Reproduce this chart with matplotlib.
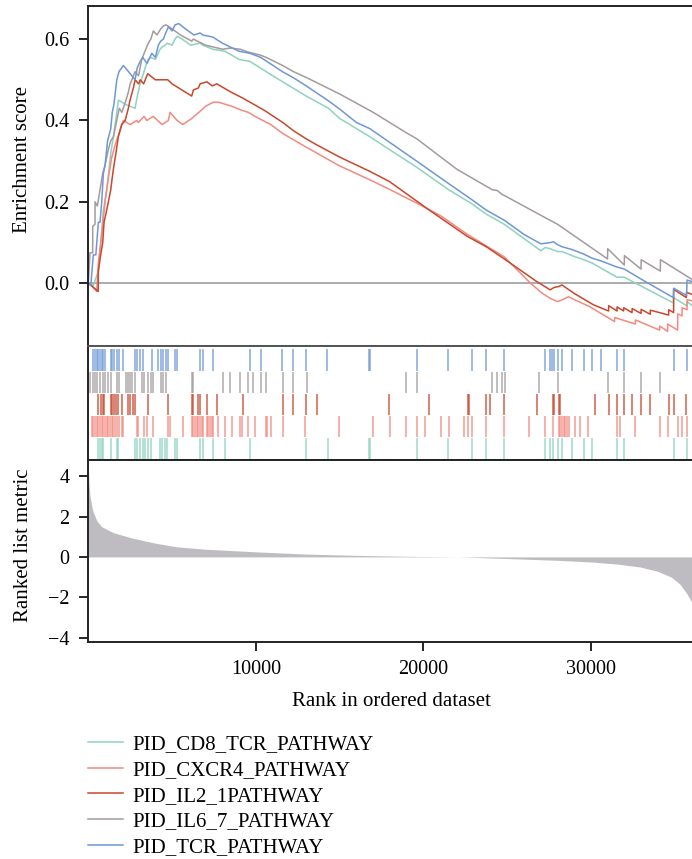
import numpy as np
import matplotlib
matplotlib.use("Agg")
import matplotlib.pyplot as plt

plt.rcParams['font.family'] = ['Liberation Serif', 'DejaVu Serif']

# gene set names and colours
pathways = ["PID_CD8_TCR_PATHWAY", "PID_CXCR4_PATHWAY", "PID_IL2_1PATHWAY",
            "PID_IL6_7_PATHWAY", "PID_TCR_PATHWAY"]
colors = ["#8dd3c0", "#f28a80", "#c9472c", "#a39b9d", "#6f97d8"]

# running enrichment score (rank, ES)
cd8_rank = [0, 300, 600, 700, 800, 900, 1100, 1340, 1500, 1700, 1800, 2200, 2790, 2925, 3090,
            3250, 3390, 3580, 3730, 4000, 4280, 4380, 4580, 4720, 5000, 5180, 5310, 5600, 6100,
            6670, 6830, 7430, 8160, 9000, 9650, 11000, 13000, 14330, 15000, 16800, 19600, 21500,
            22900, 23740, 24820, 27000, 27270, 27560, 28000, 28260, 28860, 29550, 30050, 31545,
            31980, 34900, 34925, 35700, 35725, 36200]
cd8_es = [0, -0.005, 0.03, 0.08, 0.13, 0.18, 0.23, 0.32, 0.36, 0.42, 0.45, 0.44, 0.43, 0.46, 0.49,
          0.51, 0.53, 0.55, 0.555, 0.55, 0.575, 0.58, 0.585, 0.59, 0.585, 0.60, 0.607, 0.60, 0.585,
          0.59, 0.585, 0.575, 0.57, 0.55, 0.545, 0.51, 0.46, 0.43, 0.405, 0.36, 0.285, 0.23,
          0.195, 0.17, 0.145, 0.08, 0.088, 0.085, 0.078, 0.078, 0.068, 0.058, 0.05, 0.015,
          0.015, -0.048, -0.035, -0.055, -0.045, -0.06]

cxcr4_rank = [0, 200, 400, 500, 600, 800, 1000, 1200, 1400, 1600, 1850, 2090, 2500, 2890, 2985,
              3325, 3490, 3880, 4400, 4776, 4877, 5300, 5636, 6173, 6600, 7000, 7463, 7761, 8161,
              8561, 9158, 9552, 9952, 10889, 11606, 12937, 14925, 17014, 18011, 18967, 19605,
              21062, 22626, 24818, 26268, 27000, 27560, 28000, 28300, 28650, 29000, 29900,
              31400, 31410, 32639, 32645, 34089, 34095, 34566, 34570, 35163, 35170, 35426,
              35430, 35725, 35730, 36200]
cxcr4_es = [0, -0.005, -0.015, -0.02, 0.05, 0.12, 0.2, 0.26, 0.31, 0.34, 0.37, 0.40, 0.39, 0.40, 0.395,
            0.41, 0.40, 0.41, 0.39, 0.40, 0.42, 0.40, 0.39, 0.405, 0.42, 0.435, 0.445, 0.445, 0.44,
            0.435, 0.425, 0.42, 0.41, 0.39, 0.368, 0.336, 0.29, 0.25, 0.23, 0.21, 0.197,
            0.165, 0.12, 0.065, 0.005, -0.022, -0.037, -0.045, -0.04, -0.033, -0.04, -0.057,
            -0.094, -0.084, -0.1, -0.09, -0.115, -0.105, -0.118, -0.1, -0.115, -0.075, -0.08,
            -0.06, -0.065, -0.04, -0.045]

il2_rank = [0, 300, 590, 600, 740, 860, 940, 1100, 1340, 1430, 1530, 1650, 1790, 1990, 2200, 2390,
            2490, 2690, 2790, 3000, 3100, 3300, 3546, 4000, 4740, 5000, 6170, 6270, 6570, 6670,
            7070, 7400, 7665, 8500, 9218, 10500, 11606, 12240, 13000, 13635, 15000, 16800, 17970,
            20340, 22626, 23743, 24818, 26769, 27560, 27800, 28060, 28260, 29000, 30150, 31044,
            31050, 31545, 31550, 31940, 31950, 32441, 32450, 32979, 32985, 33532, 33540, 34626,
            34630, 34925, 34930, 35682, 35690, 36200]
il2_es = [0, -0.01, -0.02, 0.03, 0.07, 0.1, 0.15, 0.18, 0.23, 0.26, 0.29, 0.32, 0.36, 0.39, 0.40, 0.43,
          0.45, 0.48, 0.50, 0.49, 0.50, 0.49, 0.515, 0.50, 0.50, 0.49, 0.46, 0.475, 0.48, 0.49,
          0.495, 0.485, 0.49, 0.47, 0.455, 0.425, 0.395, 0.375, 0.355, 0.34, 0.31, 0.275, 0.25,
          0.18, 0.115, 0.09, 0.06, 0.004, -0.016, -0.01, -0.008, -0.004, -0.025, -0.053, -0.068,
          -0.055, -0.068, -0.058, -0.068, -0.06, -0.072, -0.062, -0.074, -0.064, -0.076, -0.066, -0.078,
          -0.065, -0.072, -0.015, -0.035, -0.022, -0.03]

il6_rank = [0, 100, 260, 265, 400, 405, 540, 700, 860, 1000, 1200, 1340, 1500, 1700, 1850, 2000,
            2250, 2390, 2500, 2600, 2790, 3000, 3190, 3330, 3580, 3730, 3880, 4100, 4320, 4480,
            4640, 5000, 5500, 6170, 6270, 7000, 8020, 8460, 9060, 9550, 9850, 10310, 10610,
            11600, 12240, 13040, 15000, 17000, 18970, 19600, 22000, 24100, 24400, 24700, 24860,
            26870, 28000, 30980, 30990, 31980, 31990, 32980, 32990, 34130, 34140, 36200]
il6_es = [0, 0.075, 0.075, 0.14, 0.145, 0.20, 0.19, 0.23, 0.27, 0.29, 0.33, 0.35, 0.36, 0.40, 0.43, 0.42,
          0.45, 0.47, 0.49, 0.50, 0.52, 0.51, 0.55, 0.565, 0.59, 0.60, 0.62, 0.61, 0.625, 0.632,
          0.635, 0.625, 0.61, 0.595, 0.60, 0.585, 0.575, 0.578, 0.575, 0.568, 0.565, 0.56, 0.555,
          0.535, 0.52, 0.505, 0.465, 0.42, 0.37, 0.355, 0.28, 0.23, 0.228, 0.218, 0.215,
          0.17, 0.145, 0.06, 0.085, 0.045, 0.068, 0.035, 0.058, 0.03, 0.058, 0.005]

tcr_rank = [0, 150, 300, 450, 600, 700, 800, 900, 1000, 1150, 1340, 1430, 1530, 1700, 1830, 2090,
            2400, 2790, 2925, 3090, 3250, 3500, 3790, 4000, 4180, 4320, 4480, 4620, 4780, 5000,
            5180, 5400, 5800, 6300, 6670, 6830, 7430, 8000, 9000, 9650, 10290, 11580, 12240,
            13000, 14270, 15000, 16000, 16800, 17500, 19600, 21500, 22900, 23740, 24820, 26000,
            27000, 27560, 27760, 28000, 28260, 28860, 29550, 30050, 30590, 31545, 31980, 33000,
            34900, 34925, 35700, 35725, 36200]
tcr_es = [0, -0.005, 0.07, 0.07, 0.15, 0.15, 0.2, 0.27, 0.29, 0.35, 0.38, 0.42, 0.44, 0.50, 0.52, 0.535,
          0.52, 0.50, 0.53, 0.545, 0.555, 0.54, 0.565, 0.555, 0.585, 0.595, 0.60, 0.615, 0.63, 0.62,
          0.635, 0.638, 0.625, 0.61, 0.615, 0.61, 0.605, 0.59, 0.57, 0.565, 0.555, 0.52, 0.505,
          0.485, 0.45, 0.428, 0.395, 0.38, 0.36, 0.30, 0.245, 0.205, 0.18, 0.155, 0.12,
          0.097, 0.10, 0.102, 0.095, 0.09, 0.083, 0.072, 0.062, 0.055, 0.04, 0.035, 0.01,
          -0.035, -0.012, -0.03, 0.008, 0.002]

# hit positions (ranks) of each gene set
cd8_hits = [600, 700, 800, 900, 1340, 1700, 1790, 2790, 2925, 3090, 3250, 3390, 3580, 3730, 4280,
            4380, 4580, 4720, 5180, 5310, 6670, 6830, 7430, 8160, 9650, 13000, 14330, 16720, 16820,
            19600, 21490, 22890, 23740, 24820, 27270, 27560, 27730, 28000, 28260, 28860, 29550,
            30050, 31545, 31980, 34925, 35725]
cxcr4_hits = [200, 300, 400, 500, 600, 700, 800, 900, 1000, 1100, 1190, 1300, 1400, 1490, 1590, 1700,
              1850, 1990, 2090, 2890, 2990, 3330, 3490, 3880, 4780, 4880, 5640, 6170, 6270, 6370,
              6470, 6570, 6670, 6770, 6870, 7070, 7160, 7270, 7370, 7460, 7760, 8160, 8560, 9060,
              9160, 9550, 9950, 10610, 10690, 10890, 11610, 12940, 14930, 17010, 18010, 18970,
              19600, 20110, 21060, 21550, 22390, 22630, 22890, 23740, 24820, 26270, 27270, 27730,
              28060, 28160, 28260, 28360, 28460, 28560, 28660, 29060, 29310, 29790, 31545, 31700,
              32640, 34090, 34570, 35160, 35430, 35725]
il2_hits = [600, 740, 860, 940, 1340, 1430, 1530, 1650, 1790, 1990, 2390, 2490, 2690, 2790, 3550,
            4740, 6170, 6270, 6570, 6670, 7070, 7670, 9220, 11610, 12240, 13000, 13640, 17970,
            20340, 22630, 22690, 23740, 23980, 24820, 26770, 27730, 27800, 28060, 28160, 30250,
            31040, 31545, 31940, 32440, 32980, 33530, 34630, 34925, 35680]
il6_hits = [100, 260, 400, 540, 700, 860, 1000, 1190, 1340, 1700, 1850, 2250, 2390, 2490, 2590, 2790,
            3190, 3330, 3580, 3730, 3880, 4320, 4480, 4640, 6170, 6270, 8020, 8460, 9060, 9550,
            9850, 10310, 10610, 11610, 12240, 13040, 18970, 19600, 24100, 24400, 24700, 24860,
            26870, 28000, 30980, 31980, 32980, 34130]
tcr_hits = [300, 400, 500, 600, 700, 800, 900, 1000, 1340, 1430, 1530, 1700, 1830, 2090, 2790, 2925,
            3090, 3250, 3790, 4180, 4320, 4480, 4620, 4780, 5180, 5310, 6670, 6830, 7430, 9650,
            10290, 11580, 12240, 13000, 14270, 16720, 16820, 19600, 21490, 22890, 23740, 24820,
            27270, 27560, 27670, 27760, 28000, 28260, 28860, 29550, 30050, 30590, 31545, 31980,
            34925, 35725]

# ranked list metric (rank, value)
metric_rank = [0, 40, 100, 263, 500, 790, 1500, 2630, 4000, 5270, 7000, 10000, 13000, 15800, 19000,
               22100, 25000, 28000, 30000, 31500, 32930, 34000, 34780, 35300, 35700, 36040, 36200]
metric_val = [4.6, 3.6, 3.0, 2.3, 1.8, 1.5, 1.2, 0.93, 0.68, 0.5, 0.38, 0.25, 0.14, 0.08, 0.03,
              0.0, -0.08, -0.17, -0.25, -0.35, -0.5, -0.72, -1.0, -1.35, -1.8, -2.3, -2.5]

es_series = [(cd8_rank, cd8_es), (cxcr4_rank, cxcr4_es), (il2_rank, il2_es),
             (il6_rank, il6_es), (tcr_rank, tcr_es)]
hit_series = [cd8_hits, cxcr4_hits, il2_hits, il6_hits, tcr_hits]

W, H = 692, 859
fig = plt.figure(figsize=(W / 100, H / 100), dpi=100)
left = 88.3 / W
width = (695 - 88.3) / W
ax1 = fig.add_axes([left, 1 - 346 / H, width, (346 - 5.7) / H])
ax2 = fig.add_axes([left, 1 - 460 / H, width, (460 - 346) / H])
ax3 = fig.add_axes([left, 1 - 641.7 / H, width, (641.7 - 460) / H])
xmax = 36200

# top: running enrichment score
ax1.axhline(0, color="#a6a6a6", lw=1.3, zorder=1)
lines = []
for (r, es), c, name in zip(es_series, colors, pathways):
    ln, = ax1.plot(r, es, color=c, lw=1.1, label=name)
    lines.append(ln)
ax1.set_xlim(0, xmax)
ax1.set_ylim(-0.154, 0.682)
ax1.set_yticks([0.0, 0.2, 0.4, 0.6])
ax1.set_yticklabels(["0.0", "0.2", "0.4", "0.6"])
ax1.set_xticks([])
ax1.set_ylabel("Enrichment score", fontsize=15)
ax1.yaxis.set_label_coords(-0.093, 0.547)

# middle: hit rug, CD8 at the bottom, TCR on top
for i, (hits, c) in enumerate(zip(hit_series, colors)):
    ax2.vlines(hits, i + 0.02, i + 0.98, colors=c, lw=1.1, alpha=0.85)
ax2.set_xlim(0, xmax)
ax2.set_ylim(0, 5.13)
ax2.set_xticks([])
ax2.set_yticks([])

# bottom: ranked list metric
ax3.fill_between(metric_rank, metric_val, 0, color="#bebcc0", lw=0)
ax3.set_xlim(0, xmax)
ax3.set_ylim(-4.2, 4.8)
ax3.set_yticks([-4, -2, 0, 2, 4])
ax3.set_xticks([10000, 20000, 30000])
ax3.set_ylabel("Ranked list metric", fontsize=15)
ax3.yaxis.set_label_coords(-0.091, 0.532)
ax3.set_xlabel("Rank in ordered dataset", fontsize=15, labelpad=9)

for ax in (ax1, ax2, ax3):
    ax.spines["right"].set_visible(False)
    for s in ("left", "top", "bottom"):
        ax.spines[s].set_linewidth(1.4)
        ax.spines[s].set_color("#222222")
    ax.tick_params(direction="out", length=6.5, width=1.2, pad=7, labelsize=14.5)
ax2.spines["top"].set_color("#555555")
ax2.spines["bottom"].set_color("#555555")

fig.legend(handles=lines, loc="upper left", bbox_to_anchor=(88 / W, 1 - 734.5 / H),
           frameon=False, fontsize=15, handlelength=1.68, handletextpad=0.43,
           labelspacing=0.3, borderpad=0, borderaxespad=0)

fig.savefig("out.png", dpi=100)
